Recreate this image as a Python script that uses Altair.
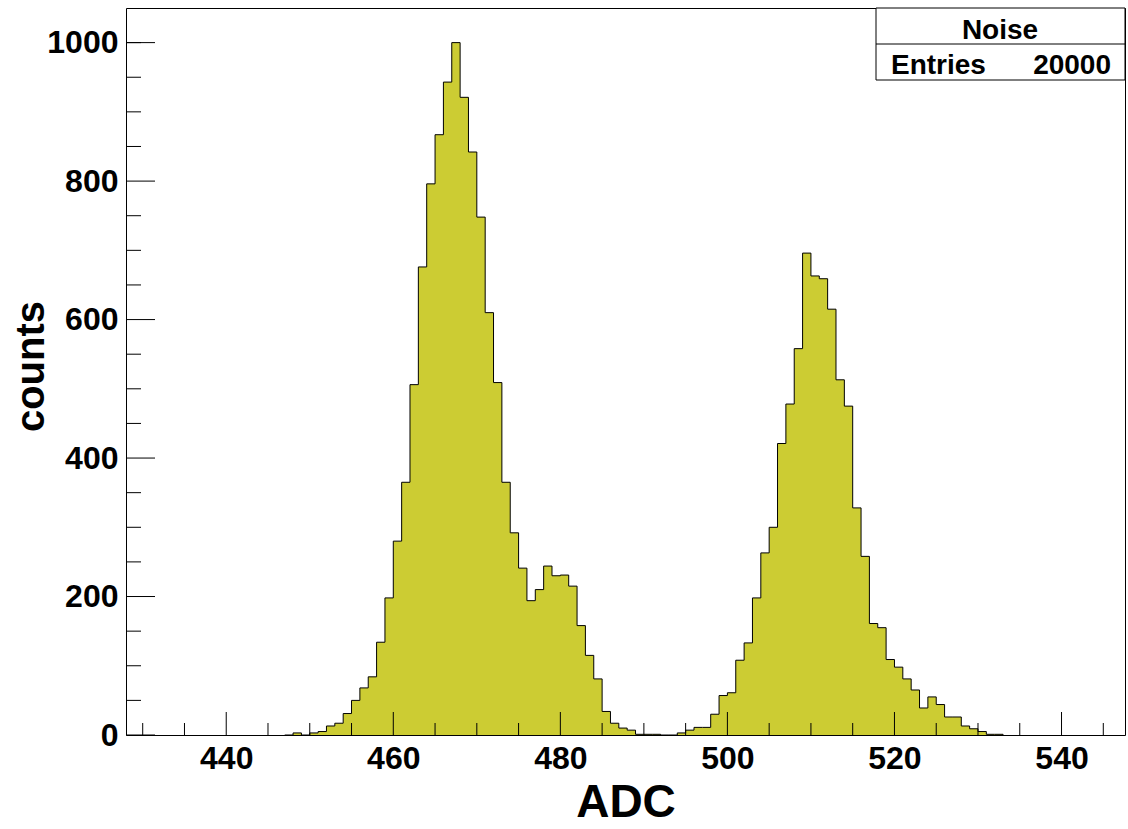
import altair as alt
import pandas as pd

# ---- data (1 ADC bins) ----
adc_bins = list(range(448, 533))
counts = [
    3, 0, 3, 5, 13, 17, 31, 50, 68, 84, 134, 198,          # 448-459
    280, 365, 506, 676, 796, 867, 943, 1000, 921, 842,     # 460-469
    748, 610, 509, 365, 292, 241, 194, 210, 244, 230,      # 470-479
    231, 215, 158, 115, 81, 34, 17, 10, 7, 1,              # 480-489
    1, 1, 0, 0, 3, 7, 11, 11, 30, 57,                      # 490-499
    61, 108, 133, 198, 263, 300, 421, 478, 558, 696,       # 500-509
    663, 659, 615, 513, 475, 328, 258, 161, 155, 109,      # 510-519
    98, 81, 65, 39, 55, 44, 26, 26, 13, 9,                 # 520-529
    5, 1, 1,                                               # 530-532
]
x_major = [440, 460, 480, 500, 520, 540]
x_minor = [430, 435, 445, 450, 455, 465, 470, 475, 485, 490, 495,
           505, 510, 515, 525, 530, 535, 545]
y_major = [0, 200, 400, 600, 800, 1000]
y_minor = [50, 100, 150, 250, 300, 350, 450, 500, 550, 650, 700, 750,
           850, 900, 950, 1000]
stats_title = "Noise"
stats_label = "Entries"
stats_value = "20000"

W, H = 999, 727
FONT = "Liberation Sans"
FILL = "#cccc33"

outline = pd.DataFrame({
    "x": [adc_bins[0] - 1] + adc_bins + [adc_bins[-1] + 1],
    "n": [0] + counts + [0],
})

xscale = alt.Scale(domain=[428, 547.6], nice=False, zero=False)
yscale = alt.Scale(domain=[0, 1050], nice=False)

x_axis = alt.Axis(values=x_major, format="d", ticks=False, domain=False, grid=False,
                  labelFont=FONT, labelFontSize=32, labelFontWeight="bold",
                  labelColor="black", labelPadding=8,
                  title="ADC", titleFont=FONT, titleFontSize=46, titleFontWeight="bold",
                  titleColor="black", titleY=81, titleBaseline="alphabetic")
y_axis = alt.Axis(values=y_major, format="d", ticks=False, domain=False, grid=False,
                  labelFont=FONT, labelFontSize=32, labelFontWeight="bold",
                  labelColor="black", labelPadding=8,
                  title="counts", titleFont=FONT, titleFontSize=40, titleFontWeight="bold",
                  titleColor="black", titleX=-83, titleY=358, titleAngle=270,
                  titleAlign="center", titleBaseline="alphabetic")

fill = alt.Chart(outline).mark_area(interpolate="step-after", color=FILL,
                                    opacity=1).encode(
    x=alt.X("x:Q", scale=xscale, axis=x_axis, title="ADC"),
    y=alt.Y("n:Q", scale=yscale, axis=y_axis, title="counts"),
)

line = alt.Chart(outline).mark_line(interpolate="step-after", color="black",
                                    strokeWidth=1).encode(
    x=alt.X("x:Q", scale=xscale, axis=x_axis, title="ADC"),
    y=alt.Y("n:Q", scale=yscale, axis=y_axis, title="counts"),
)

def xticks(vals, length):
    df = pd.DataFrame({"x": vals})
    return alt.Chart(df).mark_rule(color="black", strokeWidth=1).encode(
        x=alt.X("x:Q", scale=xscale, axis=x_axis, title="ADC"),
        y=alt.value(H), y2=alt.value(H - length))

def yticks(vals, length):
    df = pd.DataFrame({"n": vals})
    return alt.Chart(df).mark_rule(color="black", strokeWidth=1).encode(
        y=alt.Y("n:Q", scale=yscale, axis=y_axis, title="counts"),
        x=alt.value(0), x2=alt.value(length))

box_df = pd.DataFrame({"a": [0]})
box = alt.Chart(box_df).mark_rect(fill="white", stroke="black", strokeWidth=1).encode(
    x=alt.value(750), x2=alt.value(W), y=alt.value(0), y2=alt.value(72))
sep = alt.Chart(box_df).mark_rule(color="black", strokeWidth=1).encode(
    x=alt.value(750), x2=alt.value(W), y=alt.value(36))

txt_df = pd.DataFrame({"t": [stats_title, stats_label, stats_value]})
t_title = alt.Chart(txt_df.iloc[[0]]).mark_text(
    font=FONT, fontSize=28, fontWeight="bold", color="black",
    align="center", baseline="alphabetic").encode(
    text="t:N", x=alt.value(874), y=alt.value(31))
t_label = alt.Chart(txt_df.iloc[[1]]).mark_text(
    font=FONT, fontSize=28, fontWeight="bold", color="black",
    align="left", baseline="alphabetic").encode(
    text="t:N", x=alt.value(765), y=alt.value(66))
t_value = alt.Chart(txt_df.iloc[[2]]).mark_text(
    font=FONT, fontSize=28, fontWeight="bold", color="black",
    align="right", baseline="alphabetic").encode(
    text="t:N", x=alt.value(985), y=alt.value(66))

chart = alt.layer(
    fill, line,
    xticks(x_major, 23), xticks(x_minor, 12),
    yticks(y_major, 29), yticks(y_minor, 15),
    box, sep, t_title, t_label, t_value,
).properties(
    width=W, height=H,
    autosize="none",
    padding={"left": 126, "top": 8, "right": 3, "bottom": 94},
    background="white",
).configure_view(stroke="black", strokeWidth=1)

chart.save("out.html", embed_options={"renderer": "svg", "actions": False})
